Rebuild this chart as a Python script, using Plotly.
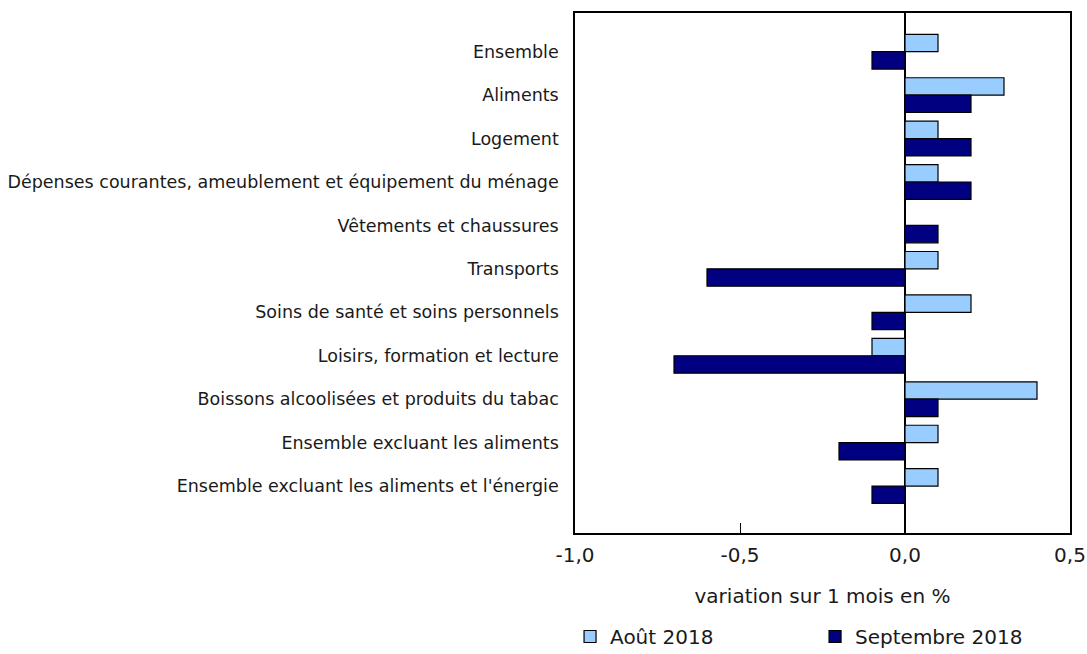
import plotly.graph_objects as go

categories = [
    "Ensemble",
    "Aliments",
    "Logement",
    "Dépenses courantes, ameublement et équipement du ménage",
    "Vêtements et chaussures",
    "Transports",
    "Soins de santé et soins personnels",
    "Loisirs, formation et lecture",
    "Boissons alcoolisées et produits du tabac",
    "Ensemble excluant les aliments",
    "Ensemble excluant les aliments et l'énergie",
]
aout_2018 = [0.1, 0.3, 0.1, 0.1, 0.0, 0.1, 0.2, -0.1, 0.4, 0.1, 0.1]
septembre_2018 = [-0.1, 0.2, 0.2, 0.2, 0.1, -0.6, -0.1, -0.7, 0.1, -0.2, -0.1]
x_ticks = [-1.0, -0.5, 0.0, 0.5]
x_tick_labels = ["-1,0", "-0,5", "0,0", "0,5"]

FONT = "DejaVu Sans"
TXT = "#1a1a1a"

fig = go.Figure()
fig.add_trace(go.Bar(
    y=categories, x=aout_2018, orientation="h", name="Août 2018",
    marker=dict(color="#99CCFF", line=dict(color="black", width=1.2)),
))
fig.add_trace(go.Bar(
    y=categories, x=septembre_2018, orientation="h", name="Septembre 2018",
    marker=dict(color="#000080", line=dict(color="black", width=1.2)),
))

fig.update_layout(
    width=1087, height=654,
    margin=dict(l=575, r=17, t=13, b=121, autoexpand=False),
    barmode="group", bargap=0.2, bargroupgap=0,
    plot_bgcolor="white", paper_bgcolor="white",
    font=dict(family=FONT, size=17.5, color=TXT),
    legend=dict(
        orientation="h", x=-0.01, y=-0.1615, xanchor="left", yanchor="top",
        font=dict(size=20, color=TXT), entrywidth=200, traceorder="normal",
    ),
)
fig.update_xaxes(
    range=[-1.0, 0.5], tickvals=x_ticks, ticktext=x_tick_labels,
    ticks="inside", ticklen=10, tickcolor="black", ticklabelstandoff=3,
    showgrid=False, zeroline=True, zerolinecolor="black", zerolinewidth=2,
    showline=True, linecolor="black", linewidth=1.5, mirror=True,
    tickfont=dict(size=20), automargin=False,
    title=dict(text="variation sur 1 mois en %", font=dict(size=20), standoff=23),
)
fig.update_yaxes(
    autorange=False, range=[11.08, -0.89], automargin=False,
    showgrid=False, ticks="", ticklabelstandoff=11,
    showline=True, linecolor="black", linewidth=1.5, mirror=True,
)
fig.write_html(
    "out.html",
    config={"displayModeBar": False},
    post_script="document.body.style.margin='0';",
)
